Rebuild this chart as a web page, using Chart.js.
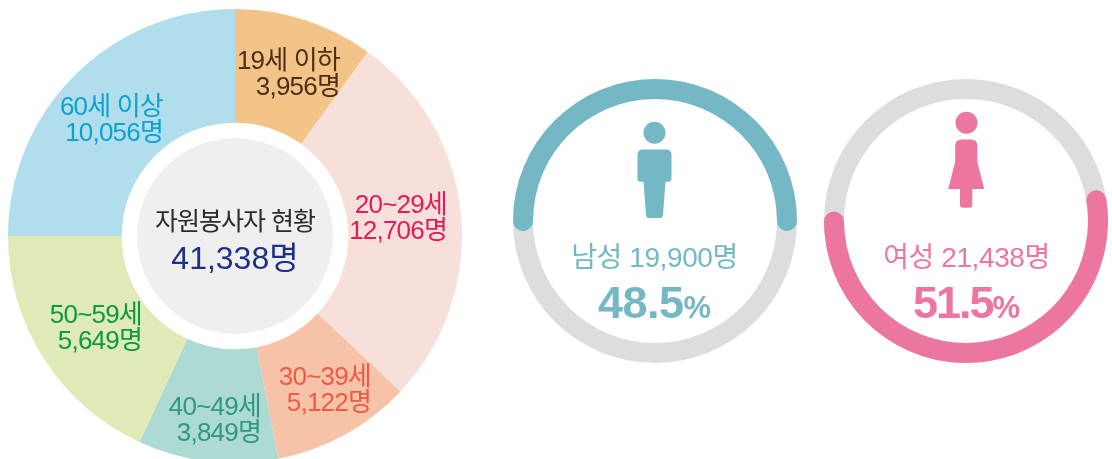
<!DOCTYPE html>
<html lang="ko">
<head>
<meta charset="utf-8">
<title>자원봉사자 현황</title>
<script src="https://cdn.jsdelivr.net/npm/chart.js@4"></script>
<style>
  html, body { margin: 0; padding: 0; background: #fff; }
  #page { position: relative; width: 1112px; height: 459px; overflow: hidden; font-family: "Liberation Sans", "Noto Sans CJK KR", sans-serif; }
  #page canvas { position: absolute; }
  .txt { position: absolute; white-space: nowrap; line-height: 1; }
  .age { font-size: 26px; letter-spacing: -0.8px; text-align: right; }
  .pct { font-size: 31px; letter-spacing: 0; }
  .disc { position: absolute; left: 137px; top: 138px; width: 196px; height: 196px; border-radius: 50%; background: #efefef; }
  svg { position: absolute; left: 0; top: 0; }
</style>
</head>
<body>
<div id="page">
  <canvas id="ageChart" width="454" height="454" style="left:8px;top:9px"></canvas>
  <div class="disc"></div>
  <canvas id="maleTrack" width="284" height="284" style="left:513px;top:79px"></canvas>
  <canvas id="maleChart" width="284" height="284" style="left:513px;top:79px"></canvas>
  <canvas id="femaleTrack" width="284" height="284" style="left:824px;top:79px"></canvas>
  <canvas id="femaleChart" width="284" height="284" style="left:824px;top:79px"></canvas>
  <svg width="1112" height="459">
    <g fill="#75b8c5">
      <circle cx="654.5" cy="132.7" r="11"></circle>
      <path d="M643 149.5h23q5.500 0 5.500 5.500v24q0 2.500-2.500 2.700h-3.500l-2.500 33q-.2 3.300-3 3.300h-11q-2.800 0-3-3.300l-2.500-33h-3.500q-2.500-.2-2.500-2.700v-24q0-5.500 5.500-5.500z"></path>
    </g>
    <g fill="#ec769f">
      <circle cx="966.5" cy="122.7" r="11"></circle>
      <path d="M962 139.500h9q6.300 0 6.300 6.300v16l7 27.200h-12v16q0 2.700-2.700 2.700h-6.800q-2.800 0-2.800-2.700v-16h-11.800l7-27.200v-16q0-6.300 6.800-6.300z"></path>
    </g>
  </svg>
</div>

<script>
'use strict';

// 연령대별 인원
const ageLabels = ['19세 이하', '20~29세', '30~39세', '40~49세', '50~59세', '60세 이상'];
const ageCounts = ['3,956명', '12,706명', '5,122명', '3,849명', '5,649명', '10,056명'];
// 그림에 그려진 조각 크기 (도, 그림에서 읽은 값 - 인원수와 비례하지 않음)
const ageSlices = [35.8, 97.4, 35.8, 35.9, 65.1, 90];
const ageColors = ['#f3c387', '#f8e0da', '#f6c3a9', '#aedad4', '#dfeab6', '#b1deec'];
const ageTextColors = ['#4b3015', '#e5195c', '#ef5a45', '#2f9a80', '#0b9a40', '#0ea2cf'];

// 성별 - 호 길이도 그림에서 읽은 값 (도, 둥근 끝 포함)
const genderLabels = ['남성 19,900명', '여성 21,438명'];
const genderPercents = ['48.5', '51.5'];
const maleArc = [188.6, 171.4];
const femaleArc = [197.5, 162.5];

const totalTitle = '자원봉사자 현황';
const totalCount = '41,338명';

const page = document.getElementById('page');

// 텍스트 넣기
const addText = (str, css) => {
  const el = document.createElement('div');
  el.className = 'txt ' + (css.cls || '');
  el.textContent = str;
  Object.assign(el.style, css.style);
  page.appendChild(el);
  return el;
};

// 공통 도넛
const makeRing = (id, values, colors, cutout, rotation, radius) => {
  new Chart(document.getElementById(id), {
    type: 'doughnut',
    data: {
      labels: values.map((v, i) => String(i)),
      datasets: [{ data: values, backgroundColor: colors, borderWidth: 0, borderRadius: radius }]
    },
    options: {
      responsive: false,
      animation: false,
      cutout: cutout,
      rotation: rotation,
      plugins: { legend: { display: false }, tooltip: { enabled: false } }
    }
  });
};

makeRing('ageChart', ageSlices, ageColors, 113.3, 0, 0);
makeRing('maleTrack', [1], ['#dcdedd'], 122, 0, 0);
makeRing('maleChart', maleArc, ['#75b8c5', 'rgba(0,0,0,0)'], 122, -94.3, 10);
makeRing('femaleTrack', [1], ['#dcdedd'], 122, 0, 0);
makeRing('femaleChart', femaleArc, ['#ec769f', 'rgba(0,0,0,0)'], 122, 76.6, 10);

// 연령대 라벨 위치 (오른쪽 끝 x, 첫 줄 중심 y)
const agePos = [[340, 60], [447, 204], [371, 376], [261, 406], [142, 314], [163, 106]];
ageLabels.forEach((label, i) => {
  const [rx, cy] = agePos[i];
  [label, ageCounts[i]].forEach((line, k) => {
    addText(line, {
      cls: 'age',
      style: { right: (1112 - rx) + 'px', top: (cy - 13 + k * 26) + 'px', color: ageTextColors[i] }
    });
  });
});

// 가운데
const centerStyle = { left: '235px', transform: 'translateX(-50%)' };
addText(totalTitle, { style: { ...centerStyle, top: '209px', fontSize: '25px', letterSpacing: '-1px', color: '#2b2b2b' } });
addText(totalCount, { style: { ...centerStyle, top: '242px', fontSize: '32px', letterSpacing: '0', color: '#1f3088' } });

// 성별 텍스트
[[654.5, '#75b8c5', '-0.5px'], [966.5, '#ec769f', '-2px']].forEach(([cx, color, spacing], i) => {
  const st = { left: cx + 'px', transform: 'translateX(-50%)', color: color };
  addText(genderLabels[i], { style: { ...st, top: '244px', fontSize: '28px', letterSpacing: '-0.4px' } });
  const pct = addText(genderPercents[i], { style: { ...st, top: '280px', fontSize: '45px', letterSpacing: spacing, fontWeight: '700' } });
  const sign = document.createElement('span');
  sign.className = 'pct';
  sign.textContent = '%';
  pct.appendChild(sign);
});
</script>
</body>
</html>
